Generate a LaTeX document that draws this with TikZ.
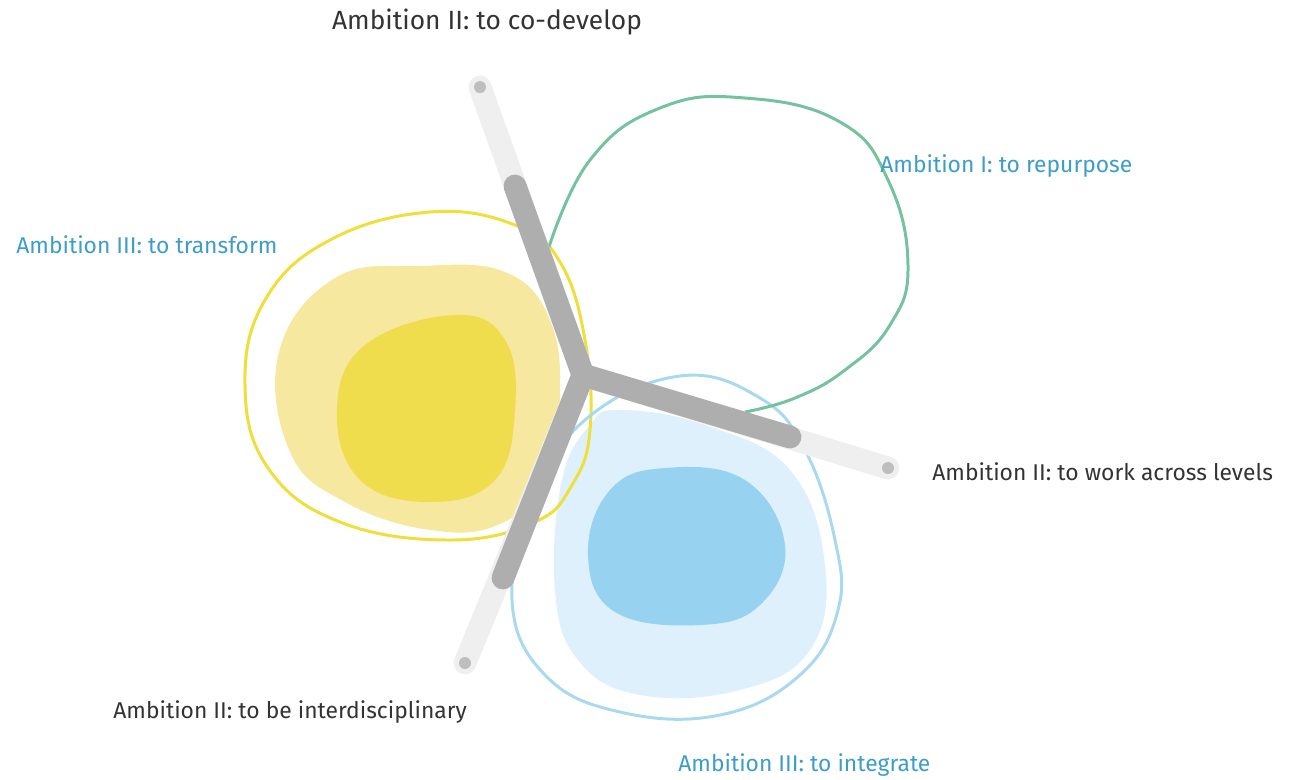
\documentclass[tikz,border=0pt]{standalone}
\usepackage{fontspec}
\setmainfont{Fira Sans}
\usetikzlibrary{positioning,calc}
\definecolor{Ink}{HTML}{333333}
\definecolor{LabelBlue}{HTML}{3C9DCB}
\definecolor{ArmDark}{HTML}{AEAEAE}
\definecolor{ArmLight}{HTML}{EFEFEF}
\definecolor{ArmDot}{HTML}{BEBEBE}
\definecolor{Sun}{HTML}{F0DE3A}
\definecolor{SunLight}{HTML}{F6E89E}
\definecolor{SunDark}{HTML}{EFDD4E}
\definecolor{Sky}{HTML}{A9D9F1}
\definecolor{SkyLight}{HTML}{DEF0FB}
\definecolor{SkyDark}{HTML}{97D3F0}
\definecolor{Leaf}{HTML}{74C29E}
\tikzset{
  label ink/.style={font=\fontsize{13}{16}\selectfont,text=Ink,inner sep=0pt},
  label blue/.style={font=\fontsize{13}{16}\selectfont,text=LabelBlue,inner sep=0pt},
  outline/.style={line width=1.7pt},
  arm light/.style={ArmLight,line width=13pt,line cap=round},
  arm dark/.style={ArmDark,line width=13pt,line cap=round},
}
\begin{document}
\begin{tikzpicture}[x=0.02cm,y=-0.02cm]
\useasboundingbox (0,0) rectangle (1303,779);
% filled blobs
\fill[SunLight] plot[smooth cycle,tension=0.7] coordinates {(335,278) (420,266) (505,272) (550,320) (560,400) (547,478) (500,524) (430,530) (345,502) (290,452) (279,352)};
\fill[SunDark] plot[smooth cycle,tension=0.7] coordinates {(455,315) (505,340) (515,410) (495,480) (430,502) (360,480) (337,410) (365,345)};
\fill[SkyLight] plot[smooth cycle,tension=0.7] coordinates {(620,410) (705,425) (790,470) (825,565) (810,650) (740,690) (640,695) (578,660) (555,590) (562,480) (590,425)};
\fill[SkyDark] plot[smooth cycle,tension=0.7] coordinates {(665,468) (745,480) (785,545) (760,605) (700,625) (615,612) (588,555) (610,490)};
% outlines
\draw[outline,Sun] plot[smooth cycle,tension=0.7] coordinates {(430,212) (515,225) (560,262) (585,340) (590,430) (572,485) (535,522) (450,540) (340,522) (268,468) (245,385) (265,300) (330,240)};
\draw[outline,Sky] plot[smooth cycle,tension=0.7] coordinates {(680,376) (760,398) (805,450) (835,540) (838,610) (800,675) (720,715) (620,712) (545,675) (512,600) (535,500) (585,420)};
\draw[outline,Leaf] plot[smooth,tension=0.75] coordinates {(548,250) (590,160) (660,108) (745,98) (840,122) (888,180) (908,265) (890,325) (845,370) (795,398) (745,412)};
% arms
\coordinate (hub) at (583,375);
\coordinate (topEnd) at (480,87);
\coordinate (topMid) at (515,186);
\coordinate (rightEnd) at (888,468);
\coordinate (rightMid) at (790,437);
\coordinate (lowEnd) at (465,663);
\coordinate (lowMid) at (503,578);
\draw[arm light] (hub) -- (topEnd);
\draw[arm light] (hub) -- (rightEnd);
\draw[arm light] (hub) -- (lowEnd);
\draw[arm dark,line join=round] (topMid) -- (hub) -- (rightMid);
\draw[arm dark] (hub) -- (lowMid);
\foreach \e in {topEnd,rightEnd,lowEnd}
  \fill[ArmDot] (\e) circle (6);
% labels
\node[label ink,font=\fontsize{15}{18}\selectfont] (codevelop) at (487,22) {Ambition II: to co-develop};
\node[label blue,anchor=west] (repurpose) at (880,166) {Ambition I: to repurpose};
\node[label blue,anchor=west] (transform) at (16,245) {Ambition III: to transform};
\node[label ink,anchor=west] (levels) at (932,472) {Ambition II: to work across levels};
\node[label ink,anchor=west] (interdisc) at (113,712) {Ambition II: to be interdisciplinary};
\node[label blue,anchor=west] (integrate) at (678,765) {Ambition III: to integrate};
\end{tikzpicture}
\end{document}
